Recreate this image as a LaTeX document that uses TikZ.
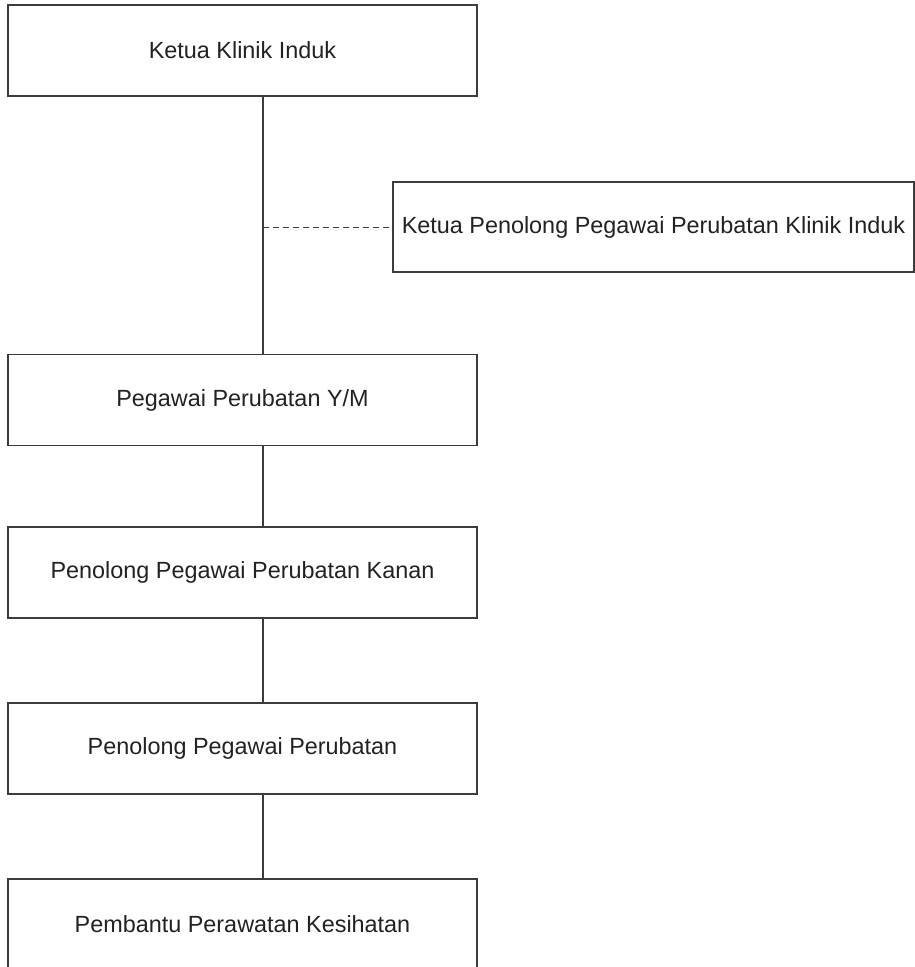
\documentclass[tikz,border=0pt]{standalone}
\usepackage{fontspec}
\setmainfont{Liberation Sans}
\definecolor{linegrey}{HTML}{3C3C3C}
\definecolor{textgrey}{HTML}{222222}
\begin{document}
\begin{tikzpicture}[x=1pt,y=-1pt,
  orgbox/.style={draw=linegrey, line width=1.3pt, rectangle, outer sep=0pt, inner sep=0pt,
    minimum width=469pt, minimum height=91pt, text=textgrey,
    font=\fontsize{23.4}{28}\selectfont},
  link/.style={draw=linegrey, line width=1.3pt},
  dashlink/.style={draw=linegrey, line width=1pt, dash pattern=on 6pt off 4pt}]
\useasboundingbox (0,0) rectangle (915,967);
\clip (0,0) rectangle (915,967);
\fill[white] (0,0) rectangle (915,967);
\node[orgbox] (top) at (242.5,50.5) {Ketua Klinik Induk};
\node[orgbox, minimum width=521pt, minimum height=90pt] (asst) at (653.5,227) {Ketua Penolong Pegawai Perubatan Klinik Induk};
\node[orgbox] (b2) at (242.5,400) {Pegawai Perubatan Y/M};
\node[orgbox] (b3) at (242.5,572.5) {Penolong Pegawai Perubatan Kanan};
\node[orgbox] (b4) at (242.5,748.5) {Penolong Pegawai Perubatan};
\node[orgbox] (b5) at (242.5,924.5) {Pembantu Perawatan Kesihatan};
\coordinate (lx) at (263,0);
\draw[link] (top.south -| lx) -- (b2.north -| lx);
\draw[dashlink] (lx |- asst.west) -- (asst.west);
\draw[link] (b2.south -| lx) -- (b3.north -| lx);
\draw[link] (b3.south -| lx) -- (b4.north -| lx);
\draw[link] (b4.south -| lx) -- (b5.north -| lx);
\end{tikzpicture}
\end{document}
